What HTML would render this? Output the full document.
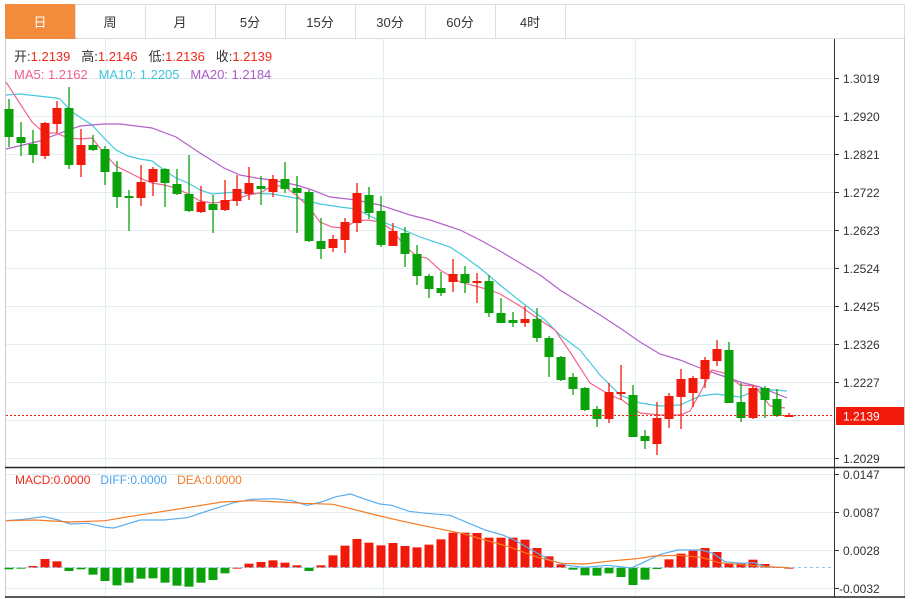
<!DOCTYPE html>
<html><head><meta charset="utf-8"><style>
html,body{margin:0;padding:0;background:#fff;width:916px;height:599px;overflow:hidden}
svg{display:block;font-family:"Liberation Sans","Noto Sans CJK SC",sans-serif}
</style></head><body>
<svg id="s" width="916" height="599" xmlns="http://www.w3.org/2000/svg">
<rect x="0" y="0" width="916" height="599" fill="#fff"/>
<g id="tabs"></g>
<g id="grid"></g>
<g id="ma"></g>
<g id="cand"></g>
<g id="mac"></g>
<g id="ax"></g>
</svg>
<script>
var NS="http://www.w3.org/2000/svg";
function el(p,t,a,txt){var e=document.createElementNS(NS,t);for(var k in a)e.setAttribute(k,a[k]);if(txt!=null)e.textContent=txt;document.getElementById(p).appendChild(e);return e;}
// tabs
var tabs=["日","周","月","5分","15分","30分","60分","4时"];
el("tabs","rect",{x:5.5,y:4.5,width:899,height:34,fill:"#fff",stroke:"#ddd"});
for(var i=0;i<8;i++){var x=5+i*70;
 if(i==0)el("tabs","rect",{x:5.5,y:4.5,width:70,height:34,fill:"#f28c3c",stroke:"#f28c3c"});
 else el("tabs","line",{x1:x+70.5,y1:4,x2:x+70.5,y2:38,stroke:"#ddd"});
 if(i==0)el("tabs","line",{x1:75.5,y1:4,x2:75.5,y2:38,stroke:"#ddd"});
 el("tabs","text",{x:x+35,y:27,"text-anchor":"middle","font-size":"13",fill:i==0?"#fff":"#333"},tabs[i]);}
// frame
el("grid","line",{x1:5.5,y1:38,x2:5.5,y2:598,stroke:"#ccc"});
el("grid","line",{x1:904.5,y1:38,x2:904.5,y2:598,stroke:"#ccc"});
// grid
for(var k=0;k<11;k++){var y=78+38*k;el("grid","line",{x1:6,y1:y+.5,x2:834,y2:y+.5,stroke:"#e3edf4"});}
[474,512,550,588].forEach(function(y){el("grid","line",{x1:6,y1:y+.5,x2:834,y2:y+.5,stroke:"#e3edf4"});});
[105,383,635].forEach(function(x){el("grid","line",{x1:x+.5,y1:39,x2:x+.5,y2:597,stroke:"#e3edf4"});});
// legend
var t=el("grid","text",{x:14,y:61,"font-size":"13",fill:"#333"});
function sp(p,s,c){var e=document.createElementNS(NS,"tspan");e.setAttribute("fill",c);e.textContent=s;p.appendChild(e);}
sp(t,"开:","#333");sp(t,"1.2139   ","#f0291a");sp(t,"高:","#333");sp(t,"1.2146   ","#f0291a");sp(t,"低:","#333");sp(t,"1.2136   ","#f0291a");sp(t,"收:","#333");sp(t,"1.2139","#f0291a");
t.setAttribute("xml:space","preserve");t.style.whiteSpace="pre";
var t2=el("grid","text",{x:14,y:79,"font-size":"13"});t2.style.whiteSpace="pre";
sp(t2,"MA5: 1.2162   ","#ef5f8a");sp(t2,"MA10: 1.2205   ","#3fc6dc");sp(t2,"MA20: 1.2184","#ae5bc8");
var t3=el("grid","text",{x:15,y:484,"font-size":"12"});t3.style.whiteSpace="pre";
sp(t3,"MACD:0.0000   ","#f0291a");sp(t3,"DIFF:0.0000   ","#4aa3ec");sp(t3,"DEA:0.0000","#f57a24");
// MA lines
function pl(g,pts,c,w,extra){var a={points:pts.map(function(p){return p.join(",")}).join(" "),fill:"none",stroke:c,"stroke-width":w||1.2};for(var k in extra)a[k]=extra[k];el(g,"polyline",a);}
pl("ma",[[6,95],[20,94],[56,98],[60,99],[72,112],[92,125],[104,138],[116,150],[128,156],[140,159],[152,161],[164,170],[176,178],[188,183],[200,190],[212,194],[224,193],[236,192],[248,193],[272,194],[284,196],[300,199],[320,204],[340,207],[356,209],[380,221],[404,230],[420,237],[450,247],[462,255],[480,268],[500,285],[520,301],[545,320],[560,335],[580,350],[600,375],[620,395],[640,403],[660,406],[680,405],[700,396],[716,394],[740,397],[760,389],[787,391]],"#45c9de");
pl("ma",[[6,149],[40,141],[60,133],[80,126],[104,124],[120,124],[152,128],[176,137],[200,153],[224,168],[240,175],[256,178],[272,180],[296,185],[312,190],[330,197],[356,200],[380,205],[410,215],[430,220],[460,230],[480,240],[500,251],[540,275],[560,290],[600,315],[620,328],[640,342],[660,354],[680,360],[700,368],[720,375],[740,382],[760,387],[787,398]],"#b45fcb");
pl("ma",[[6,82],[32,122],[44,133],[56,133],[68,138],[80,139],[92,138],[104,153],[116,166],[128,172],[140,178],[152,183],[164,185],[176,188],[188,194],[200,201],[212,203],[224,202],[236,199],[248,195],[260,193],[272,186],[284,186],[296,195],[308,206],[320,222],[332,227],[344,228],[356,221],[368,220],[380,222],[392,230],[404,245],[416,256],[427,258],[440,270],[460,282],[490,290],[500,294],[520,306],[540,320],[555,330],[572,355],[590,383],[610,395],[622,400],[640,413],[660,415],[680,415],[690,411],[700,393],[712,370],[724,373],[740,385],[755,386],[770,406],[785,408]],"#f0668e");
// candles [wt,bt,bb,wb,up]
var C=[[99,109,137,147,0],[122,137,143,156,0],[130,144,155,163,0],[122,123,156,159,1],[101,108,124,133,1],[87,108,165,169,0],[129,145,165,177,1],[135,145,150,151,0],[146,149,172,185,0],[161,172,197,208,0],[190,196,198,231,0],[165,182,198,206,1],[167,169,182,196,1],[168,169,183,207,0],[169,184,194,195,0],[155,194,211,212,0],[186,202,212,213,1],[195,204,210,233,0],[180,200,210,211,1],[175,189,201,206,1],[167,183,194,200,1],[176,186,189,205,0],[175,179,192,197,1],[162,179,189,193,0],[176,188,193,233,0],[190,192,241,242,0],[218,241,249,259,0],[235,239,248,252,1],[218,222,240,253,1],[183,193,223,232,1],[187,195,213,219,0],[196,211,245,247,0],[223,231,246,245,1],[227,233,254,267,0],
[245,254,276,285,0],[274,276,289,298,0],[272,288,293,296,0],[259,274,282,292,1],[266,274,283,293,0],[273,281,283,303,1],[275,281,313,317,0],[298,313,323,323,0],[312,320,323,327,0],[306,319,323,327,1],[308,319,338,342,0],[336,338,357,377,0],[356,357,380,381,0],[373,377,389,395,0],[387,388,410,411,0],[406,409,419,427,0],[383,392,419,423,1],[365,392,394,400,1],[385,395,437,437,0],[430,436,441,449,0],[402,418,444,455,1],[393,396,419,428,1],[369,379,397,429,1],[376,378,393,407,1],[357,360,379,388,1],[340,349,361,366,1],[342,350,403,403,0],[383,402,418,422,0],[385,388,418,419,1],[386,388,400,418,0],[389,399,416,417,0],[413,415,417,417,1]];
C.forEach(function(c,i){var x=9+12*i,col=c[4]?"#f1190a":"#0aa10a";
 el("cand","line",{x1:x,y1:c[0],x2:x,y2:Math.max(c[3],c[2]),stroke:col,"stroke-width":1.3});
 el("cand","rect",{x:x-4.5,y:c[1],width:9,height:Math.max(1.5,c[2]-c[1]),fill:col});});
// price line
el("cand","line",{x1:6,y1:415.5,x2:834,y2:415.5,stroke:"#f1190a","stroke-dasharray":"2,2","stroke-width":1});
// MACD hist
var H=[388,385,378,357,364,393,388,404,423,436,428,416,415,428,437,440,428,420,400,383,371,366,361,368,376,393,376,346,317,297,308,316,309,318,322,314,298,278,278,279,293,293,293,299,324,349,373,389,406,407,400,411,435,419,387,358,341,332,324,336,370,370,359,372,381,383];
var Z=567.7;
H.forEach(function(v,i){var y=440+v/3,x=9+12*i,col=y<Z?"#f1190a":"#0aa10a";
 var top=Math.min(y,Z),h=Math.abs(y-Z);if(h<1)h=1;
 el("mac","rect",{x:x-4.5,y:top,width:9,height:h,fill:col});});
el("mac","line",{x1:6,y1:567.5,x2:834,y2:567.5,stroke:"#8fc8ea","stroke-dasharray":"3,3"});
function mp(a){return a.map(function(p){return[p[0]/1.711,440+p[1]/3]});}
pl("mac",mp([[10,242],[40,238],[75,230],[100,240],[120,252],[150,250],[180,262],[195,264],[240,240],[280,240],[320,233],[360,210],[400,188],[430,178],[470,176],[500,182],[525,196],[550,186],[575,170],[600,162],[625,178],[650,192],[670,196],[700,214],[730,220],[770,226],[800,248],[830,270],[860,285],[880,300],[910,330],[940,360],[970,376],[1000,382],[1040,376],[1080,384],[1100,368],[1130,343],[1160,330],[1200,330],[1220,340],[1240,365],[1270,370],[1290,368],[1310,380],[1350,383]]),"#5aaeee",1.2);
pl("mac",mp([[10,242],[60,240],[120,246],[180,242],[220,230],[280,214],[330,200],[380,186],[430,182],[480,186],[520,190],[570,193],[600,206],[650,228],[700,248],[750,266],[790,280],[830,300],[870,320],[920,352],[960,370],[1000,372],[1050,362],[1090,356],[1120,348],[1160,346],[1200,352],[1230,368],[1270,374],[1310,380],[1350,383]]),"#f57a24",1.2);
// axes
el("ax","line",{x1:834.5,y1:39,x2:834.5,y2:597,stroke:"#333"});
el("ax","line",{x1:5,y1:467.5,x2:905,y2:467.5,stroke:"#222","stroke-width":1.5});
el("ax","line",{x1:5,y1:597,x2:905,y2:597,stroke:"#222","stroke-width":1.5});
var P=["1.3019","1.2920","1.2821","1.2722","1.2623","1.2524","1.2425","1.2326","1.2227"];
P.forEach(function(p,k){var y=78+38*k;el("ax","line",{x1:834,y1:y+.5,x2:839,y2:y+.5,stroke:"#333"});el("ax","text",{x:843,y:y+5,"font-size":"12",fill:"#333"},p);});
el("ax","line",{x1:834,y1:458.5,x2:839,y2:458.5,stroke:"#333"});el("ax","text",{x:843,y:463,"font-size":"12",fill:"#333"},"1.2029");
el("ax","rect",{x:836,y:407,width:68,height:18,fill:"#f1190a"});
el("ax","text",{x:843,y:420.5,"font-size":"12",fill:"#fff"},"1.2139");
[["0.0147",474],["0.0087",512],["0.0028",550],["-0.0032",588]].forEach(function(a){el("ax","line",{x1:834,y1:a[1]+.5,x2:839,y2:a[1]+.5,stroke:"#333"});el("ax","text",{x:a[0][0]=="-"?839:843,y:a[1]+5,"font-size":"12",fill:"#333"},a[0]);});
</script>
</body></html>
